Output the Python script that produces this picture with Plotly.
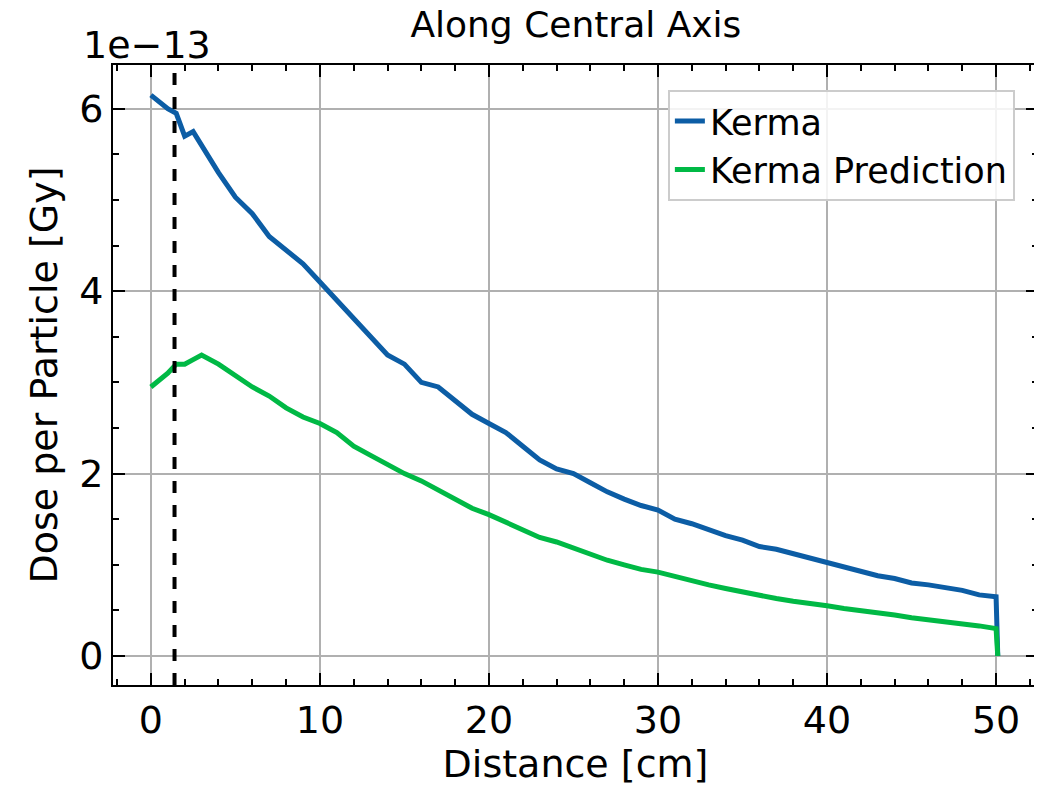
import plotly.graph_objects as go

# distance in cm, dose in units of 1e-13 Gy
distance = [0, 1, 1.5, 2, 2.5, 3, 4, 5, 6, 7, 8, 9, 10, 11, 12, 13, 14, 15, 16, 17, 18, 19, 20,
            21, 22, 23, 24, 25, 26, 27, 28, 29, 30, 31, 32, 33, 34, 35, 36, 37, 38, 39,
            40, 41, 42, 43, 44, 45, 46, 47, 48, 49, 50, 50.1]
kerma = [6.15, 6.0, 5.95, 5.7, 5.75, 5.6, 5.3, 5.03, 4.85, 4.6, 4.45, 4.3, 4.1, 3.9, 3.7, 3.5,
         3.3, 3.2, 3.0, 2.95, 2.8, 2.65, 2.55, 2.45, 2.3, 2.15, 2.05, 2.0, 1.9, 1.8, 1.72,
         1.65, 1.6, 1.5, 1.45, 1.38, 1.32, 1.27, 1.2, 1.17, 1.12, 1.07, 1.03, 0.98, 0.93,
         0.88, 0.85, 0.8, 0.78, 0.75, 0.72, 0.67, 0.65, 0.0]
prediction = [2.95, 3.1, 3.2, 3.2, 3.25, 3.3, 3.2, 3.08, 2.95, 2.85, 2.72, 2.62, 2.55, 2.45,
              2.3, 2.2, 2.1, 2.0, 1.92, 1.82, 1.72, 1.62, 1.55, 1.47, 1.38, 1.3, 1.25, 1.18,
              1.12, 1.05, 1.0, 0.95, 0.92, 0.87, 0.83, 0.78, 0.74, 0.7, 0.67, 0.63, 0.6, 0.58,
              0.55, 0.52, 0.5, 0.47, 0.45, 0.42, 0.4, 0.38, 0.35, 0.33, 0.3, 0.0]
marker_x = 1.4

FONT = "DejaVu Sans"

fig = go.Figure()
fig.add_trace(go.Scatter(x=distance, y=kerma, mode="lines", name="Kerma",
                         line=dict(color="#0C5DA5", width=5)))
fig.add_trace(go.Scatter(x=distance, y=prediction, mode="lines", name="Kerma Prediction",
                         line=dict(color="#00B945", width=5)))
fig.add_vline(x=marker_x, line=dict(color="black", width=4, dash="dash"))

axis_common = dict(
    showline=True, linecolor="black", linewidth=2, mirror="allticks",
    ticks="inside", ticklen=12, tickwidth=2, tickcolor="black",
    showgrid=True, gridcolor="#b0b0b0", gridwidth=2, zeroline=False,
    tickfont=dict(size=38, color="black", family=FONT),
    title_font=dict(size=38, color="black", family=FONT),
)
fig.update_xaxes(**axis_common, range=[-2.24, 52.48], tick0=0, dtick=10,
                 title_text="Distance [cm]", title_standoff=4,
                 minor=dict(ticks="inside", ticklen=6, tickwidth=1.5, dtick=2, tickcolor="black"))
fig.update_yaxes(**axis_common, range=[-0.318, 6.48], tick0=0, dtick=2,
                 title_text="Dose per Particle [Gy]", title_standoff=10,
                 minor=dict(ticks="inside", ticklen=6, tickwidth=1.5, dtick=0.5, tickcolor="black"))

fig.add_annotation(text="1e\u221213", xref="paper", yref="paper", x=0, y=1.0,
                   xanchor="left", yanchor="bottom", showarrow=False,
                   font=dict(size=38, color="black", family=FONT), xshift=-32, yshift=-4)

fig.update_layout(
    width=1042, height=793,
    font=dict(family=FONT, color="black"),
    paper_bgcolor="white", plot_bgcolor="white",
    margin=dict(l=105, r=10, t=57, b=116),
    title=dict(text="Along Central Axis", x=0.545, xanchor="center", y=0.995, yanchor="top",
               font=dict(size=36, color="black", family=FONT)),
    legend=dict(x=0.975, y=0.96, xanchor="right", yanchor="top",
                bgcolor="rgba(255,255,255,0.85)", bordercolor="#cccccc", borderwidth=2,
                font=dict(size=35, color="black", family=FONT)),
    showlegend=True,
)

fig.write_html("out.html")
